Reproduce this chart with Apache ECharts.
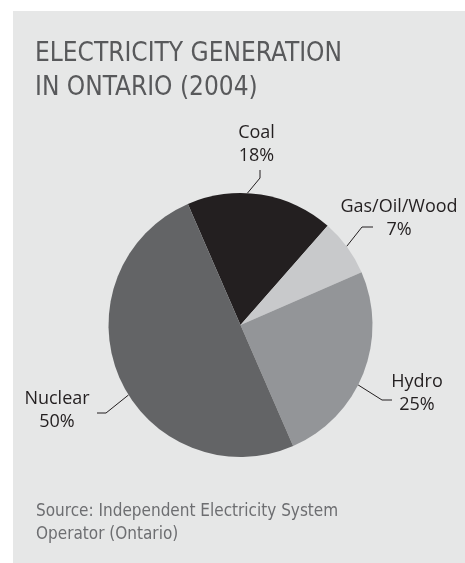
<!DOCTYPE html>
<html>
<head>
<meta charset="utf-8">
<script src="https://cdn.jsdelivr.net/npm/echarts@6/dist/echarts.min.js"></script>
<style>
  html, body { margin: 0; padding: 0; background: #ffffff; }
  #chart { width: 465px; height: 563px; }
</style>
</head>
<body>
<div id="chart"></div>
<script>
// data
const categories = ['Coal', 'Gas/Oil/Wood', 'Hydro', 'Nuclear']
const shares = [18, 7, 25, 50]
const titleLines = ['ELECTRICITY GENERATION', 'IN ONTARIO (2004)']
const sourceLines = ['Source: Independent Electricity System', 'Operator (Ontario)']

// styles
const sliceColors = ['#231f20', '#c8c9cb', '#939598', '#636466']
const narrowFont = '"DejaVu Sans Condensed", "Liberation Sans", sans-serif'
const CX = 240.5, CY = 325, R = 132

// where each callout goes: angle on the rim, elbow, end of line, label centre
const callouts = [
  { angle: 87, elbow: [260, 178], end: [260, 170], text: [256.5, 144] },
  { angle: 36.5, elbow: [362, 227], end: [373, 227], text: [399, 218.5] },
  { angle: -27, elbow: [382, 400], end: [392, 400], text: [417, 393] },
  { angle: -148, elbow: [106, 413], end: [97, 413], text: [57, 410.5] },
]

function rim(angle) {
  let a = angle * Math.PI / 180
  return [CX + R * Math.cos(a), CY - R * Math.sin(a)]
}

let chart = echarts.init(document.getElementById('chart'))
let option = {
  animation: false,
  graphic: [
    {
      type: 'rect',
      z: -10,
      shape: { x: 13, y: 11, width: 452, height: 552 },
      style: { fill: '#e6e7e7' },
    },
  ],
  title: [
    {
      text: titleLines.join('\n'),
      left: 35,
      top: 37,
      padding: 0,
      textStyle: {
        fontFamily: narrowFont,
        fontWeight: 'normal',
        fontSize: 26,
        lineHeight: 34,
        color: '#58595b',
      },
    },
    {
      text: sourceLines.join('\n'),
      left: 36,
      top: 500,
      padding: 0,
      textStyle: {
        fontFamily: narrowFont,
        fontWeight: 'normal',
        fontSize: 17,
        lineHeight: 23,
        color: '#6d6e71',
      },
    },
  ],
  series: [
    {
      type: 'pie',
      center: [CX, CY],
      radius: [0, R],
      startAngle: 113.5,
      clockwise: true,
      avoidLabelOverlap: false,
      silent: true,
      data: categories.map((name, i) => ({
        name: name,
        value: shares[i],
        itemStyle: { color: sliceColors[i] },
      })),
      label: {
        show: true,
        position: 'outside',
        formatter: '{b}\n{c}%',
        fontFamily: '"Open Sans", "Noto Sans", sans-serif',
        fontSize: 18,
        lineHeight: 23,
        color: '#231f20',
        align: 'center',
      },
      labelLine: {
        show: true,
        length: 10,
        length2: 10,
        lineStyle: { color: '#231f20', width: 1 },
      },
      labelLayout: function (params) {
        let c = callouts[params.dataIndex]
        return {
          x: c.text[0],
          y: c.text[1],
          align: 'center',
          verticalAlign: 'middle',
          labelLinePoints: [rim(c.angle), c.elbow, c.end],
        }
      },
    },
  ],
}
chart.setOption(option)
</script>
</body>
</html>
